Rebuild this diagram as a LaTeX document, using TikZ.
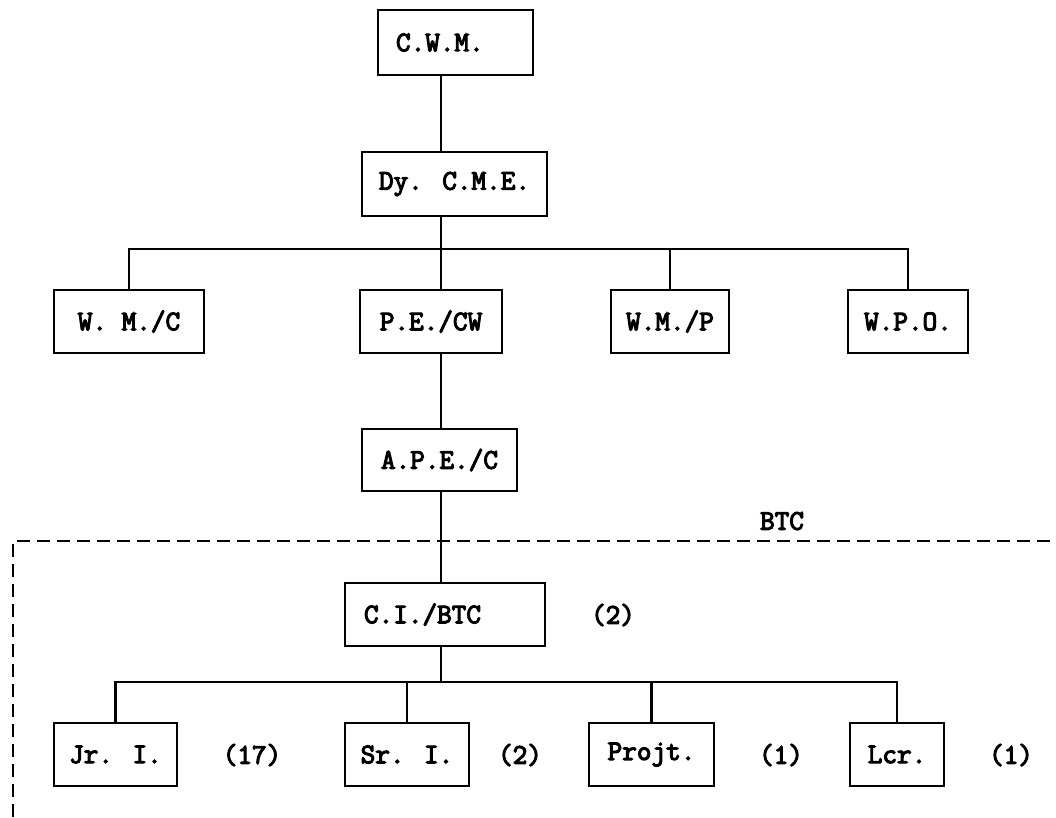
\documentclass[tikz,border=0pt]{standalone}
\usepackage{fontspec}
\newfontfamily\tw[FakeBold=4]{Latin Modern Mono}
\begin{document}
\begin{tikzpicture}[x=1pt,y=-1pt,
  txt/.style={font=\tw\fontsize{28.4}{28.4}\selectfont},
  box/.style={txt, draw, line width=2.6pt, minimum height=63pt, inner sep=0pt},
  lbox/.style={box, align=left, inner xsep=18pt},
  lab/.style={txt, inner sep=0pt},
  link/.style={line width=2.2pt},
  frame/.style={line width=2.2pt, dash pattern=on 13pt off 7pt}]
\useasboundingbox[fill=white] (0,0) rectangle (1056,817);
% boxes
\node[lbox, text width=119pt, minimum height=65pt] (cwm) at (455.5,42.5) {C.W.M.};
\node[box, minimum width=185pt, minimum height=64pt] (dy) at (454.5,184) {Dy. C.M.E.};
\node[box, minimum width=150pt] (wmc) at (129,321.5) {W. M./C};
\node[box, minimum width=142pt] (pe) at (431,321.5) {P.E./CW};
\node[box, minimum width=118pt] (wmp) at (670,321.5) {W.M./P};
\node[box, minimum width=120pt] (wpo) at (908,321.5) {W.P.O.};
\node[box, minimum width=155pt, minimum height=62pt] (ape) at (439.5,460) {A.P.E./C};
\node[lbox, text width=162pt, inner xsep=19pt] (ci) at (445,614.5) {C.I./BTC};
\node[box, minimum width=123pt] (jr) at (115.5,754.5) {Jr. I.};
\node[box, minimum width=124pt] (sr) at (407,754.5) {Sr. I.};
\node[box, minimum width=125pt] (pj) at (651.5,754.5) {Projt.};
\node[box, minimum width=94pt] (lcr) at (897,754.5) {Lcr.};
% labels
\node[lab] (btc) at (782,521) {BTC};
\node[lab] (nci) at (613,615) {(2)};
\node[lab] (njr) at (252,755) {(17)};
\node[lab] (nsr) at (520,755) {(2)};
\node[lab] (npj) at (781,755) {(1)};
\node[lab] (nlcr) at (1011,755) {(1)};
% frame
\coordinate (fl) at (13,817);
\coordinate (ft) at (13,541);
\coordinate (fr) at (1056,541);
\draw[frame] (fl) -- (ft) -- (fr);
% connectors
\coordinate (spine) at (441,0);
\coordinate (bar1) at (0,249);
\coordinate (bar2) at (0,682);
\draw[link] (spine |- cwm.south) -- (spine |- dy.north);
\draw[link] (spine |- dy.south) -- (spine |- pe.north);
\draw[link] (wmc.north) -- (wmc.north |- bar1) -- (wpo.north |- bar1) -- (wpo.north);
\draw[link] (wmp.north) -- (wmp.north |- bar1);
\draw[link] (spine |- pe.south) -- (spine |- ape.north);
\draw[link] (spine |- ape.south) -- (spine |- ci.north);
\draw[link] (spine |- ci.south) -- (spine |- bar2);
\draw[link] (jr.north) -- (jr.north |- bar2) -- (lcr.north |- bar2) -- (lcr.north);
\draw[link] (sr.north) -- (sr.north |- bar2);
\draw[link] (pj.north) -- (pj.north |- bar2);
\end{tikzpicture}
\end{document}
